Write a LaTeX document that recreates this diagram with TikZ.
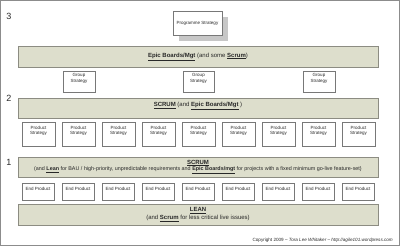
\documentclass[tikz,border=0pt]{standalone}
\usepackage{fontspec}
\setmainfont{Liberation Sans}
\usetikzlibrary{shadows}
\definecolor{bandfill}{RGB}{221,222,204}
\definecolor{bandline}{RGB}{140,140,130}
\definecolor{boxline}{RGB}{120,120,120}
\definecolor{txt}{RGB}{40,40,40}
\newcommand{\ub}[1]{\underline{\textbf{#1}}}
\tikzset{
  band/.style={draw=bandline, fill=bandfill, line width=0.6pt},
  sbox/.style={draw=boxline, fill=white, line width=0.6pt,
     drop shadow={shadow xshift=1pt, shadow yshift=-1pt, fill=black!25, opacity=1}},
  btxt/.style={font=\fontsize{4.5}{5.5}\selectfont, text=txt, align=center, inner sep=0pt},
  bandtxt/.style={font=\fontsize{6}{7.5}\selectfont, text=txt, align=center, inner sep=0pt},
  numtxt/.style={font=\fontsize{9}{10}\selectfont, text=txt, inner sep=0pt},
}
\begin{document}
\begin{tikzpicture}[x=1pt,y=-1pt]
\useasboundingbox (0,0) rectangle (400,246);
\draw[draw=black!45, line width=0.8pt] (0.5,0.5) rectangle (399.5,245.5);

% level numbers
\node[numtxt] (n3) at (9,16) {3};
\node[numtxt] (n2) at (9,98) {2};
\node[numtxt] (n1) at (9,162) {1};

% programme strategy
\fill[black!22] (179,17) rectangle (228,41);
\draw[draw=boxline, fill=white, line width=0.6pt] (173,11) rectangle (222,35);
\node[btxt] (prog) at (197.5,23) {Programme Strategy};

% Epic band
\draw[band] (18,46) rectangle (378,67);
\node[bandtxt] (epic) at (198,56.5) {\ub{Epic Boards/Mgt} (and some \ub{Scrum})};

% group strategy
\foreach \x/\w [count=\i] in {63/32,183/31,303/32}{
  \draw[sbox] (\x,71) rectangle ++(\w,21);
  \node[btxt, anchor=north] (g\i) at (\x+\w/2,73.5) {Group\\Strategy};
}

% level 2 band
\draw[band] (18,98) rectangle (378,118);
\node[bandtxt] (scrum2) at (198,106) {\ub{SCRUM} (and \ub{Epic Boards/Mgt} )};

% product strategy
\foreach \k in {0,...,8}{
  \draw[sbox] (22+40*\k,122) rectangle ++(33,24);
  \node[btxt, anchor=north] (p\k) at (38.5+40*\k,126) {Product\\Strategy};
}

% level 1 band
\draw[band] (18,157) rectangle (378,177);
\node[bandtxt] (scrum1) at (198,163) {\ub{SCRUM}};
\node[bandtxt, font=\fontsize{5.4}{6.5}\selectfont] (scrum1b) at (198,170.5) {(and \ub{Lean} for BAU / high-priority, unpredictable requirements and \ub{Epic Boards/mgt} for projects with a fixed minimum go-live feature-set)};

% end products
\foreach \k in {0,...,8}{
  \draw[sbox] (22+40*\k,183) rectangle ++(32,17);
  \node[btxt] (e\k) at (38+40*\k,189) {End Product};
}

% LEAN band
\draw[band] (18,204) rectangle (378,225);
\node[bandtxt] (lean) at (198,210.5) {\ub{LEAN}};
\node[bandtxt] (leanb) at (198,218.5) {(and \ub{Scrum} for less critical live issues)};

% copyright
\node[font=\fontsize{4.6}{5.5}\selectfont, text=txt, anchor=east, inner sep=0pt] (copy) at (393,240) {Copyright 2009 -- \textit{Tora Lee Whitaker -- http://agile101.wordpress.com}};
\end{tikzpicture}
\end{document}
